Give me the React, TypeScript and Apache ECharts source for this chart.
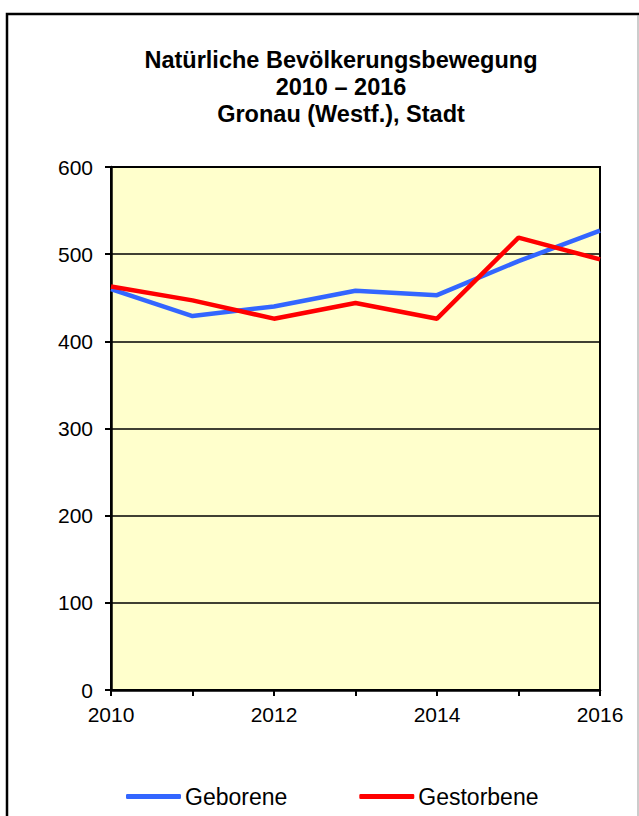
import React, { useEffect, useRef } from "react";
import * as echarts from "echarts";

const years = ["2010", "2011", "2012", "2013", "2014", "2015", "2016"];
const geborene = [460, 429, 440, 458, 453, 492, 527];
const gestorbene = [463, 447, 426, 444, 426, 519, 494];
const titleLines = ["Natürliche Bevölkerungsbewegung", "2010 – 2016", "Gronau (Westf.), Stadt"];

export default function App() {
  const ref = useRef<HTMLDivElement>(null);
  useEffect(() => {
    const chart = echarts.init(ref.current!, undefined, { renderer: "svg" });
    const font = "'Liberation Sans', Arial, sans-serif";
    chart.setOption({
      animation: false,
      backgroundColor: "#ffffff",
      textStyle: { fontFamily: font },
      title: {
        text: titleLines.join("\n"),
        left: 336,
        textAlign: "center",
        top: 41,
        textStyle: { fontSize: 23.5, fontWeight: "bold", color: "#000", lineHeight: 27, fontFamily: font },
      },
      graphic: [
        {
          type: "rect",
          shape: { x: 7, y: 14, width: 660, height: 820 },
          style: { fill: "none", stroke: "#000", lineWidth: 2.5 },
          z: 100,
        },
        {
          type: "line",
          shape: { x1: 638, y1: 15, x2: 638, y2: 816 },
          style: { stroke: "#999", lineWidth: 1 },
          z: 100,
        },
      ],
      legend: {
        left: 121,
        top: 780,
        itemWidth: 55,
        itemHeight: 5,
        itemGap: 72,
        textStyle: { fontSize: 23, color: "#000", fontFamily: font, padding: [0, 0, 0, -1] },
        data: [
          { name: "Geborene", icon: "roundRect" },
          { name: "Gestorbene", icon: "roundRect" },
        ],
      },
      grid: { left: 111, top: 167, width: 489, height: 523, backgroundColor: "#FFFFCC", show: true, borderColor: "#000", borderWidth: 2 },
      xAxis: {
        type: "category",
        data: years,
        boundaryGap: false,
        axisLine: { lineStyle: { color: "#000", width: 2.5 } },
        axisTick: { show: true, interval: 0, length: 6, lineStyle: { color: "#000", width: 2 } },
        axisLabel: { interval: 1, color: "#000", fontSize: 21, margin: 14, fontFamily: font },
        splitLine: { show: false },
      },
      yAxis: {
        type: "value",
        min: 0,
        max: 600,
        interval: 100,
        axisLine: { show: true, lineStyle: { color: "#000", width: 2.5 } },
        axisTick: { show: true, length: 6, lineStyle: { color: "#000", width: 2 } },
        axisLabel: { color: "#000", fontSize: 21, margin: 18, fontFamily: font },
        splitLine: { show: true, lineStyle: { color: "#000", width: 1.5 } },
      },
      series: [
        {
          name: "Geborene",
          type: "line",
          data: geborene,
          symbol: "none",
          lineStyle: { color: "#3366FF", width: 4.5 },
          itemStyle: { color: "#3366FF" },
        },
        {
          name: "Gestorbene",
          type: "line",
          data: gestorbene,
          symbol: "none",
          lineStyle: { color: "#FF0000", width: 4.5 },
          itemStyle: { color: "#FF0000" },
        },
      ],
    });
    return () => chart.dispose();
  }, []);
  return <div ref={ref} style={{ position: "fixed", left: 0, top: 0, width: 639, height: 816 }} />;
}
